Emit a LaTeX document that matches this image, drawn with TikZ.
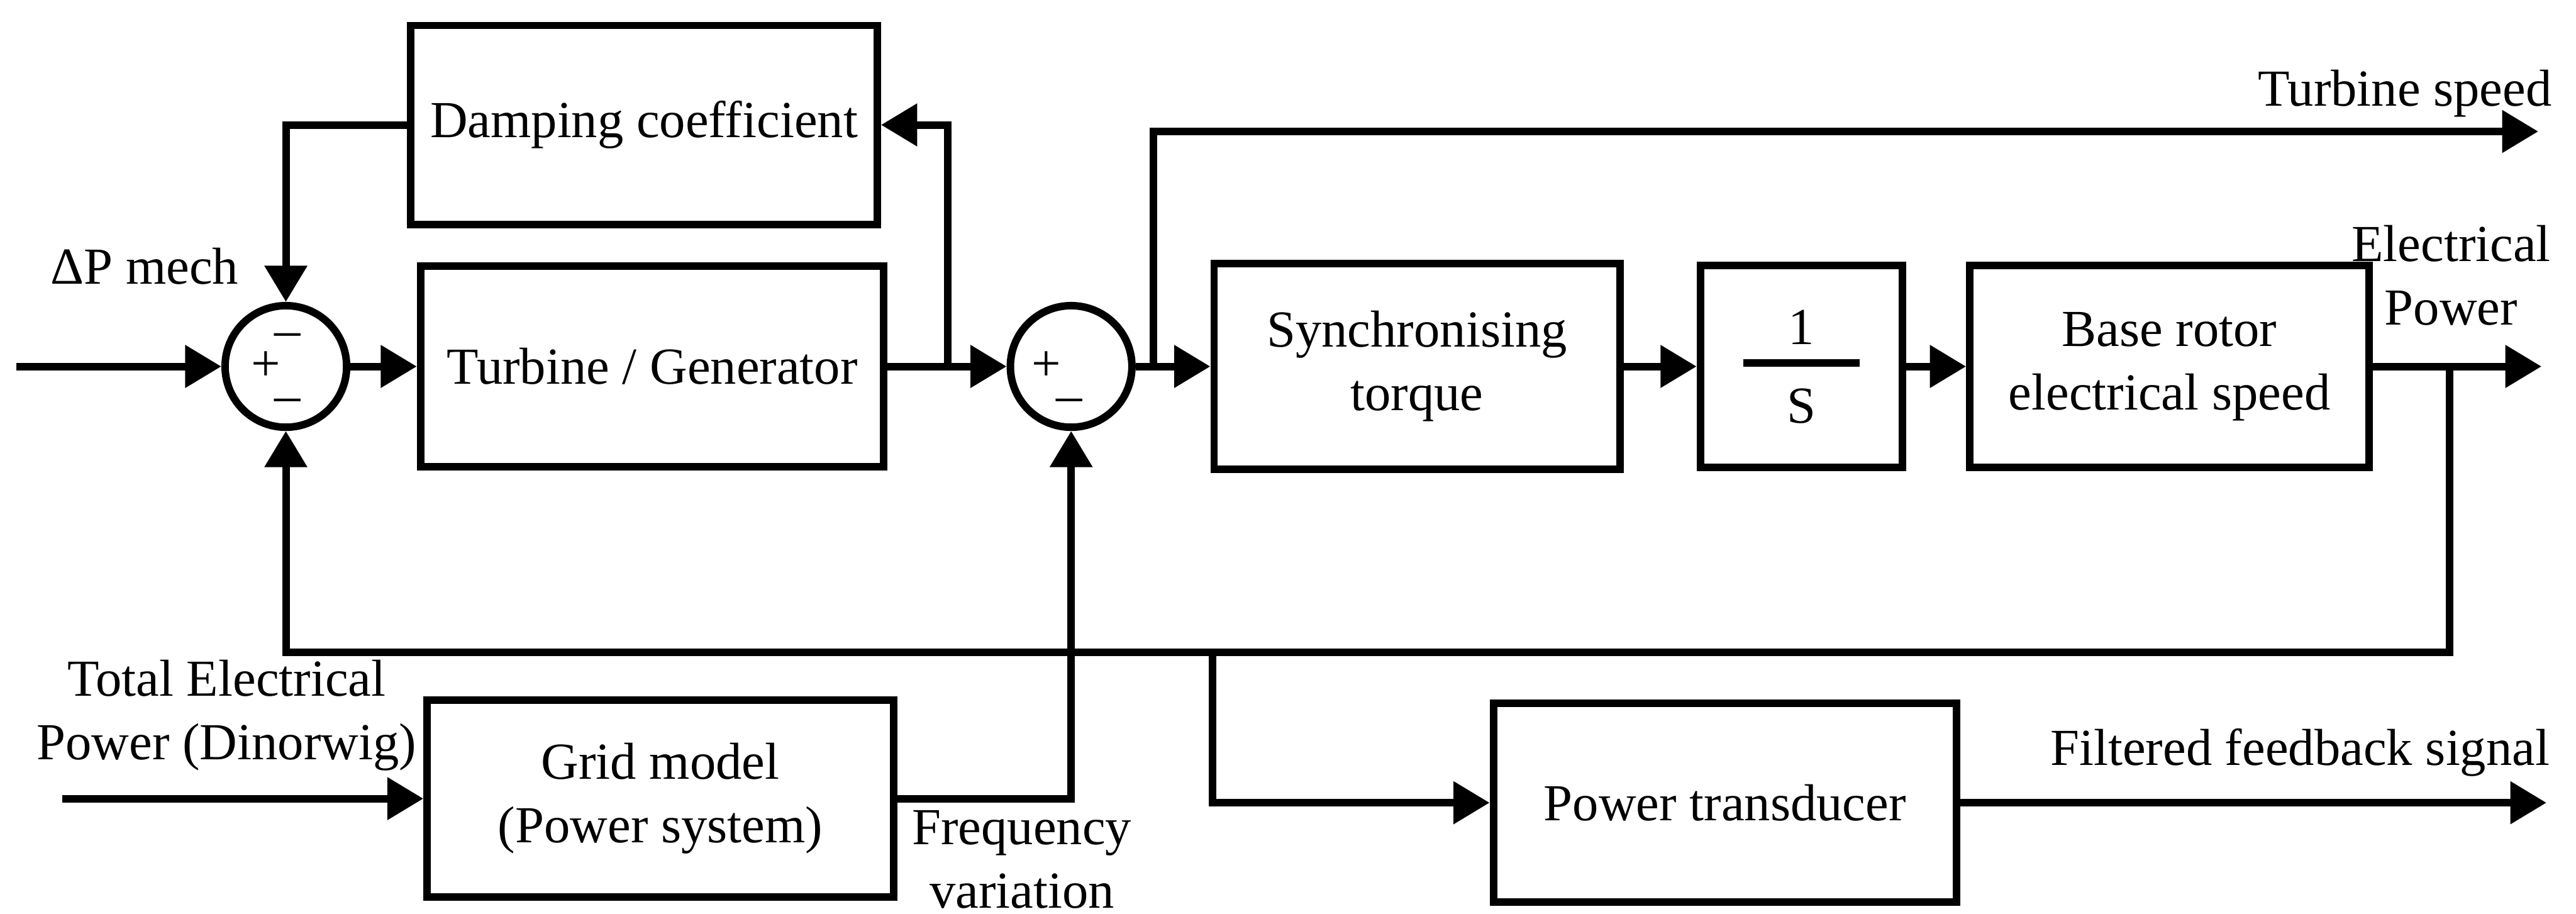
\documentclass[tikz,border=0pt]{standalone}
\usepackage{fontspec}
\setmainfont{Liberation Serif}
\usepackage{tikz}
\usetikzlibrary{arrows.meta, positioning, calc}

\begin{document}
\begin{tikzpicture}[
    font=\fontsize{9}{11}\selectfont,
    block/.style={rectangle, draw, line width=1.3pt, text centered, align=center, inner sep=0pt},
    sumjunc/.style={circle, draw, line width=1.3pt, minimum size=0.74cm, inner sep=0pt},
    sign/.style={inner sep=0pt},
    sigtext/.style={align=center, inner sep=0pt},
    wire/.style={line width=1.3pt},
    arrow/.style={-{Triangle[length=2.2mm, width=2.5mm]}, line width=1.3pt}
]
\useasboundingbox (0,0) rectangle (15.68,5.56);

% Forward path
\node[sumjunc] (sum1) at (1.74,3.33) {};
\node[block, minimum width=2.82cm, minimum height=1.22cm] (turbgen) at (3.97,3.33) {Turbine / Generator};
\node[block, minimum width=2.84cm, minimum height=1.21cm] (damp) at (3.92,4.80) {Damping coefficient};
\node[sumjunc] (sum2) at (6.52,3.33) {};
\node[block, minimum width=2.47cm, minimum height=1.25cm] (sync) at (8.625,3.33) {Synchronising\\torque};
\node[block, minimum width=1.23cm, minimum height=1.23cm] (integ) at (10.965,3.33) {};
\node[block, minimum width=2.43cm, minimum height=1.23cm] (rotor) at (13.205,3.33) {Base rotor\\electrical speed};

% Lower blocks
\node[block, minimum width=2.84cm, minimum height=1.20cm] (grid) at (4.02,0.70) {Grid model\\(Power system)};
\node[block, minimum width=2.82cm, minimum height=1.21cm] (ptrans) at (10.50,0.675) {Power transducer};

% Signs and the 1/S fraction
\node[sign] (s1top) at ($(sum1)+(0.01,0.16)$) {–};
\node[sign] (s1left) at ($(sum1)+(-0.12,0)$) {+};
\node[sign] (s1bot) at ($(sum1)+(0.01,-0.24)$) {–};
\node[sign] (s2left) at ($(sum2)+(-0.15,0)$) {+};
\node[sign] (s2bot) at ($(sum2)+(-0.01,-0.24)$) {–};
\node[sign] (one) at ($(integ)+(0,0.24)$) {1};
\node[sign] (ess) at ($(integ)+(0,-0.24)$) {S};
\draw[wire] ($(integ)+(-0.355,0.02)$) -- ($(integ)+(0.355,0.02)$);

% Signal labels
\node[sigtext] (dpm) at (0.88,3.94) {ΔP mech};
\node[sigtext, anchor=east] (tspeed) at (15.54,4.99) {Turbine speed};
\node[sigtext] (epower) at (14.92,3.885) {Electrical\\Power};
\node[sigtext] (filtsig) at (14.00,0.98) {Filtered feedback signal};
\node[sigtext] (totpow) at (1.38,1.205) {Total Electrical\\Power (Dinorwig)};
\node[sigtext] (freqvar) at (6.22,0.33) {Frequency\\variation};

% Branch points and free ends
\coordinate (mechin) at (0.10,3.33);
\coordinate (tb) at (5.77,3.33);
\coordinate (sb) at (7.02,3.33);
\coordinate (speedout) at (15.45,4.76);
\coordinate (pb) at (14.91,3.33);
\coordinate (powout) at (15.47,3.33);
\coordinate (fbcorner) at (14.91,1.59);
\coordinate (tdb) at (7.38,1.59);
\coordinate (gridin) at (0.38,0.70);
\coordinate (filtout) at (15.50,0.675);

% Arrows
\draw[arrow] (mechin) -- (sum1);
\draw[arrow] (sum1) -- (turbgen);
\draw[arrow] (turbgen) -- (sum2);
\draw[arrow] (tb) |- (damp);
\draw[arrow] (damp) -| (sum1);
\draw[arrow] (sum2) -- (sync);
\draw[arrow] (sb) |- (speedout);
\draw[arrow] (sync) -- (integ);
\draw[arrow] (integ) -- (rotor);
\draw[arrow] (rotor) -- (powout);

% Feedback paths
\draw[arrow] (pb) -- (fbcorner) -| (sum1);
\draw[arrow] (tdb) |- (ptrans);
\draw[arrow] (gridin) -- (grid);
\draw[arrow] (grid) -| (sum2);
\draw[arrow] (ptrans) -- (filtout);

\end{tikzpicture}
\end{document}
